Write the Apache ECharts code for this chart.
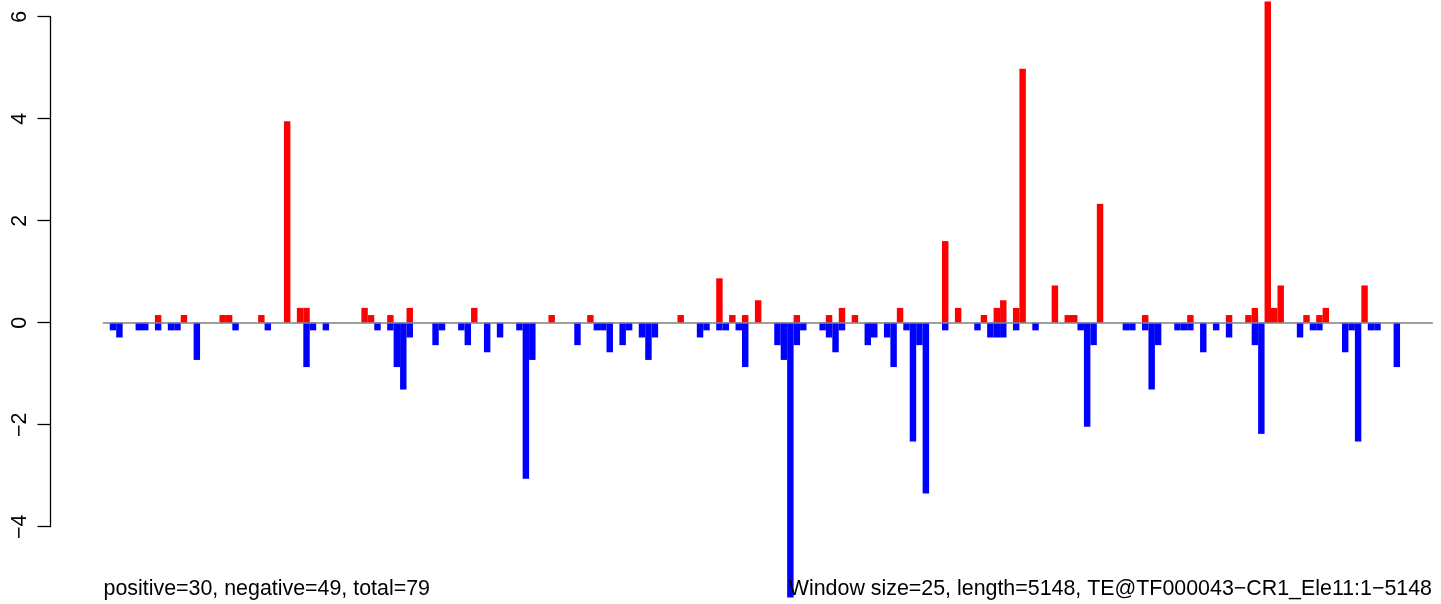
<!DOCTYPE html>
<html style="height: 100%">
<head>
    <meta charset="utf-8">
    <title>TE window counts</title>
    <script src="https://cdn.jsdelivr.net/npm/echarts@6/dist/echarts.min.js"></script>
</head>
<body style="height: 100%; margin: 0; background: #fff">
<div id="main" style="width: 1441px; height: 604px"></div>

<script type="text/javascript">
    // one value per 25bp window (206 windows over 5148bp)
    var posValues = [
        0, 0, 0, 0, 0, 0, 0, 0, 0.15, 0,
        0, 0, 0.15, 0, 0, 0, 0, 0, 0.15, 0.15,
        0, 0, 0, 0, 0.15, 0, 0, 0, 3.95, 0,
        0.29, 0.29, 0, 0, 0, 0, 0, 0, 0, 0,
        0.29, 0.15, 0, 0, 0.15, 0, 0, 0.29, 0, 0,
        0, 0, 0, 0, 0, 0, 0, 0.29, 0, 0,
        0, 0, 0, 0, 0, 0, 0, 0, 0, 0.15,
        0, 0, 0, 0, 0, 0.15, 0, 0, 0, 0,
        0, 0, 0, 0, 0, 0, 0, 0, 0, 0.15,
        0, 0, 0, 0, 0, 0.87, 0, 0.15, 0, 0.15,
        0, 0.44, 0, 0, 0, 0, 0, 0.15, 0, 0,
        0, 0, 0.15, 0, 0.29, 0, 0.15, 0, 0, 0,
        0, 0, 0, 0.29, 0, 0, 0, 0, 0, 0,
        1.6, 0, 0.29, 0, 0, 0, 0.15, 0, 0.29, 0.44,
        0, 0.29, 4.98, 0, 0, 0, 0, 0.73, 0, 0.15,
        0.15, 0, 0, 0, 2.33, 0, 0, 0, 0, 0,
        0, 0.15, 0, 0, 0, 0, 0, 0, 0.15, 0,
        0, 0, 0, 0, 0.15, 0, 0, 0.15, 0.29, 0,
        6.3, 0.29, 0.73, 0, 0, 0, 0.15, 0, 0.15, 0.29,
        0, 0, 0, 0, 0, 0.73, 0, 0, 0, 0,
        0, 0, 0, 0, 0, 0
    ];

    var negValues = [
        0, -0.15, -0.29, 0, 0, -0.15, -0.15, 0, -0.15, 0,
        -0.15, -0.15, 0, 0, -0.73, 0, 0, 0, 0, 0,
        -0.15, 0, 0, 0, 0, -0.15, 0, 0, 0, 0,
        0, -0.87, -0.15, 0, -0.15, 0, 0, 0, 0, 0,
        0, 0, -0.15, 0, -0.15, -0.87, -1.31, -0.29, 0, 0,
        0, -0.44, -0.15, 0, 0, -0.15, -0.44, 0, 0, -0.58,
        0, -0.29, 0, 0, -0.15, -3.06, -0.73, 0, 0, 0,
        0, 0, 0, -0.44, 0, 0, -0.15, -0.15, -0.58, 0,
        -0.44, -0.15, 0, -0.29, -0.73, -0.29, 0, 0, 0, 0,
        0, 0, -0.29, -0.15, 0, -0.15, -0.15, 0, -0.15, -0.87,
        0, 0, 0, 0, -0.44, -0.73, -5.39, -0.44, -0.15, 0,
        0, -0.15, -0.29, -0.58, -0.15, 0, 0, 0, -0.44, -0.29,
        0, -0.29, -0.87, 0, -0.15, -2.33, -0.44, -3.35, 0, 0,
        -0.15, 0, 0, 0, 0, -0.15, 0, -0.29, -0.29, -0.29,
        0, -0.15, 0, 0, -0.15, 0, 0, 0, 0, 0,
        0, -0.15, -2.04, -0.44, 0, 0, 0, 0, -0.15, -0.15,
        0, -0.15, -1.31, -0.44, 0, 0, -0.15, -0.15, -0.15, 0,
        -0.58, 0, -0.15, 0, -0.29, 0, 0, 0, -0.44, -2.18,
        0, 0, 0, 0, 0, -0.29, 0, -0.15, -0.15, 0,
        0, 0, -0.58, -0.15, -2.33, 0, -0.15, -0.15, 0, 0,
        -0.87, 0, 0, 0, 0, 0
    ];

    var yTicks = [-4, -2, 0, 2, 4, 6];
    var leftNote = 'positive=30, negative=49, total=79';
    var rightNote = 'Window size=25, length=5148, TE@TF000043\u2212CR1_Ele11:1\u22125148';

    var windows = [];
    for (var i = 0; i < posValues.length; i++) {
        windows.push(String(i * 25 + 1));
    }

    var font = "'Liberation Sans', Arial, Helvetica, sans-serif";
    var myChart = echarts.init(document.getElementById('main'));

    var option = {
        animation: false,
        backgroundColor: '#fff',
        title: [
            {
                text: leftNote,
                left: 103.5,
                top: 579,
                padding: 0,
                textStyle: {fontSize: 21.4, fontWeight: 'normal', color: '#000', fontFamily: font}
            },
            {
                text: rightNote,
                right: 9,
                top: 579,
                padding: 0,
                textStyle: {fontSize: 21.4, fontWeight: 'normal', color: '#000', fontFamily: font}
            }
        ],
        grid: [
            // bars
            {left: 103.3, right: 8.7, top: 1.4, height: 601.8, containLabel: false},
            // axis only (R draws it from first to last tick)
            {left: 50.5, width: 10, top: 16.7, height: 510, containLabel: false}
        ],
        xAxis: [
            {
                type: 'category',
                gridIndex: 0,
                data: windows,
                z: 10,
                axisLine: {show: true, onZero: true, lineStyle: {color: '#808080', width: 1.5}},
                axisTick: {show: false},
                axisLabel: {show: false},
                splitLine: {show: false}
            },
            {type: 'value', gridIndex: 1, show: false}
        ],
        yAxis: [
            {
                type: 'value',
                gridIndex: 0,
                min: -5.5,
                max: 6.3,
                show: false
            },
            {
                type: 'value',
                gridIndex: 1,
                min: yTicks[0],
                max: yTicks[yTicks.length - 1],
                interval: 2,
                position: 'left',
                axisLine: {show: true, lineStyle: {color: '#000', width: 1.3}},
                axisTick: {show: true, length: 13, lineStyle: {color: '#000', width: 1.3}},
                axisLabel: {
                    rotate: 90,
                    margin: 20,
                    fontSize: 21.4,
                    color: '#000',
                    fontFamily: font,
                    formatter: function (v) { return String(v).replace('-', '\u2212'); }
                },
                splitLine: {show: false}
            }
        ],
        series: [
            {
                name: 'positive',
                type: 'bar',
                xAxisIndex: 0,
                yAxisIndex: 0,
                data: posValues,
                barWidth: '100%',
                barGap: '-100%',
                itemStyle: {color: '#ff0000'}
            },
            {
                name: 'negative',
                type: 'bar',
                xAxisIndex: 0,
                yAxisIndex: 0,
                data: negValues,
                barWidth: '100%',
                barGap: '-100%',
                itemStyle: {color: '#0000ff'}
            }
        ]
    };
    myChart.setOption(option, true);
</script>
</body>
</html>
